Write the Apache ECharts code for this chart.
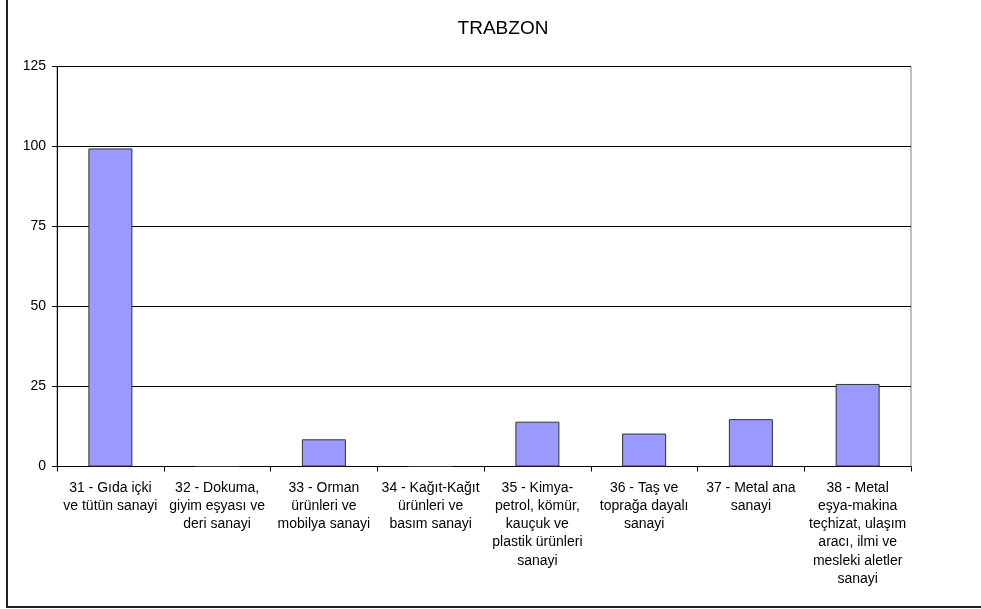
<!DOCTYPE html>
<html>
<head>
<meta charset="utf-8">
<script src="https://cdn.jsdelivr.net/npm/echarts@6/dist/echarts.min.js"></script>
<style>
  html, body { margin: 0; padding: 0; background: #fff; }
  #chart { width: 981px; height: 609px; }
</style>
</head>
<body>
<div id="chart"></div>
<script>
// Sector labels (ISIC 31-38), broken into lines as printed under the axis
const categories = [
  '31 - Gıda içki\nve tütün sanayi',
  '32 - Dokuma,\ngiyim eşyası ve\nderi sanayi',
  '33 - Orman\nürünleri ve\nmobilya sanayi',
  '34 - Kağıt-Kağıt\nürünleri ve\nbasım sanayi',
  '35 - Kimya-\npetrol, kömür,\nkauçuk ve\nplastik ürünleri\nsanayi',
  '36 - Taş ve\ntoprağa dayalı\nsanayi',
  '37 - Metal ana\nsanayi',
  '38 - Metal\neşya-makina\nteçhizat, ulaşım\naracı, ilmi ve\nmesleki aletler\nsanayi'
];
const values = [99.4, 0, 8.5, 0, 14.0, 10.3, 14.8, 25.8];
const yTicks = [0, 25, 50, 75, 100, 125];

const FONT = '"Liberation Sans", Arial, sans-serif';
const chart = echarts.init(document.getElementById('chart'), null, { renderer: 'canvas' });

chart.setOption({
  backgroundColor: '#ffffff',
  animation: false,
  title: {
    text: 'TRABZON',
    left: 498,
    textAlign: 'center',
    top: 14,
    textStyle: { fontFamily: FONT, fontSize: 19, fontWeight: 'normal', color: '#000' }
  },
  grid: {
    left: 57, right: 70, top: 66.5, bottom: 142.5,
    show: true, borderColor: '#808080', borderWidth: 1, backgroundColor: '#fff'
  },
  xAxis: {
    type: 'category',
    data: categories,
    axisLine: { lineStyle: { color: '#000', width: 1 } },
    axisTick: { show: true, alignWithLabel: false, length: 5, lineStyle: { color: '#000' } },
    axisLabel: {
      interval: 0, margin: 12, color: '#000', fontFamily: FONT, fontSize: 14,
      lineHeight: 18.3, align: 'center'
    }
  },
  yAxis: {
    type: 'value',
    min: yTicks[0], max: yTicks[yTicks.length - 1], interval: 25,
    axisLine: { show: true, lineStyle: { color: '#000', width: 1 } },
    axisTick: { show: true, length: 5, lineStyle: { color: '#000' } },
    axisLabel: { margin: 11, color: '#000', fontFamily: FONT, fontSize: 14 },
    splitLine: { show: true, lineStyle: { color: '#000', width: 1 } }
  },
  series: [{
    type: 'bar',
    data: values,
    barWidth: 44,
    itemStyle: { color: '#9999FF', borderColor: '#333333', borderWidth: 1 }
  }],
  graphic: [
    { type: 'line', shape: { x1: 7, y1: 0, x2: 7, y2: 607 }, style: { stroke: '#222', lineWidth: 2 } },
    { type: 'line', shape: { x1: 6, y1: 607, x2: 981, y2: 607 }, style: { stroke: '#222', lineWidth: 2 } }
  ]
});
</script>
</body>
</html>
